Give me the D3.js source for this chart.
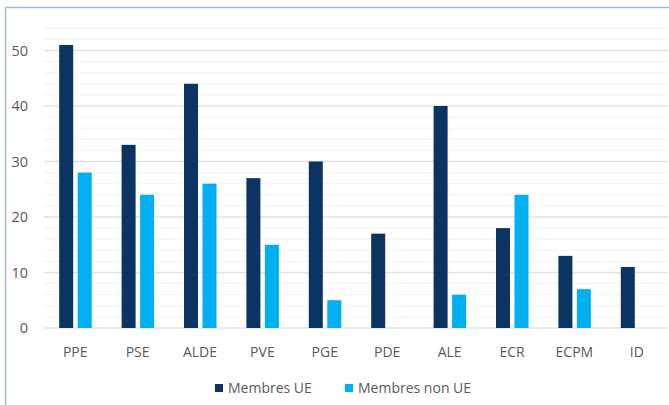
<!DOCTYPE html>
<html>
<head>
<meta charset="utf-8">
<script src="https://cdn.jsdelivr.net/npm/d3@7"></script>
<style>
  body { margin: 0; background: #fff; }
  text { font-family: "Open Sans", "Noto Sans", sans-serif; fill: #595959; }
</style>
</head>
<body>
<div id="chart"></div>
<script>
// Chart data
var categories = ["PPE", "PSE", "ALDE", "PVE", "PGE", "PDE", "ALE", "ECR", "ECPM", "ID"];
var membresUE = [51, 33, 44, 27, 30, 17, 40, 18, 13, 11];
var membresNonUE = [28, 24, 26, 15, 5, 0, 6, 24, 7, 0];
var seriesNames = ["Membres UE", "Membres non UE"];
var yTicks = [0, 10, 20, 30, 40, 50];

var width = 669, height = 405;
var colors = ["#0b3463", "#00b0f0"];

var svg = d3.select("#chart").append("svg")
    .attr("width", width)
    .attr("height", height);

// outer frame
svg.append("rect")
    .attr("x", 5.5).attr("y", 7.5)
    .attr("width", width + 10).attr("height", height + 10)
    .attr("fill", "none")
    .attr("stroke", "#a7bcd4")
    .attr("stroke-width", 1.5);

var x = d3.scaleBand()
    .domain(categories)
    .range([44, 668]);

var y = d3.scaleLinear()
    .domain([0, 50])
    .range([328, 50.5]);

// minor gridlines every 2
svg.append("g").selectAll("line")
    .data(d3.range(0, 55, 2).filter(function (d) { return d % 10 !== 0; }))
    .enter().append("line")
    .attr("x1", 44).attr("x2", 668)
    .attr("y1", function (d) { return y(d); })
    .attr("y2", function (d) { return y(d); })
    .attr("stroke", "#f3f3f3")
    .attr("stroke-width", 1);

// major gridlines
svg.append("g").selectAll("line")
    .data(yTicks)
    .enter().append("line")
    .attr("x1", 44).attr("x2", 668)
    .attr("y1", function (d) { return y(d); })
    .attr("y2", function (d) { return y(d); })
    .attr("stroke", "#e2e2e2")
    .attr("stroke-width", 1.3);

// y tick labels
svg.append("g").selectAll("text")
    .data(yTicks)
    .enter().append("text")
    .attr("x", 28)
    .attr("y", function (d) { return y(d); })
    .attr("dy", "0.35em")
    .attr("text-anchor", "end")
    .style("font-size", "14.5px")
    .text(function (d) { return d; });

// bars
var barW = 14;
var groups = svg.append("g").selectAll("g")
    .data(categories)
    .enter().append("g")
    .attr("transform", function (d) { return "translate(" + (x(d) + x.bandwidth() / 2) + ",0)"; });

groups.append("rect")
    .attr("x", -16)
    .attr("width", barW)
    .attr("y", function (d, i) { return y(membresUE[i]); })
    .attr("height", function (d, i) { return y(0) - y(membresUE[i]); })
    .attr("fill", colors[0]);

groups.append("rect")
    .attr("x", 2.5)
    .attr("width", barW)
    .attr("y", function (d, i) { return y(membresNonUE[i]); })
    .attr("height", function (d, i) { return y(0) - y(membresNonUE[i]); })
    .attr("fill", colors[1]);

// x labels
groups.append("text")
    .attr("y", 352)
    .attr("dy", "0.35em")
    .attr("text-anchor", "middle")
    .style("font-size", "14px")
    .text(function (d) { return d; });

// legend
var legendX = [215, 345];
var legend = svg.append("g").selectAll("g")
    .data(seriesNames)
    .enter().append("g")
    .attr("transform", function (d, i) { return "translate(" + legendX[i] + ",388)"; });

legend.append("rect")
    .attr("x", 0).attr("y", -4)
    .attr("width", 8).attr("height", 8)
    .attr("fill", function (d, i) { return colors[i]; });

legend.append("text")
    .attr("x", 13)
    .attr("dy", "0.35em")
    .style("font-size", "14px")
    .text(function (d) { return d; });
</script>
</body>
</html>
